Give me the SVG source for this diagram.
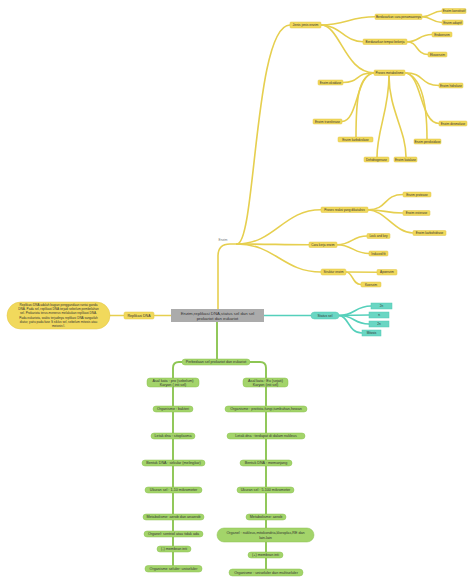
<svg xmlns="http://www.w3.org/2000/svg" width="474" height="585" viewBox="0 0 474 585">
<style>
text{font-family:"Liberation Sans",Arial,sans-serif;text-anchor:middle;fill:#333}
.y{fill:#f1d95c;stroke:#e2c646;stroke-width:0.5}
.t{fill:#6ad6c3;stroke:#52c9b4;stroke-width:0.5}
.g{fill:#a3d46a;stroke:#8cc253;stroke-width:0.5}
.yt{font-size:3.1px}
.ym{font-size:3.4px}
.gt{font-size:3.7px}
.cy{fill:none;stroke:#e6cf4f;stroke-width:1.6;stroke-linecap:round}
.ct{fill:none;stroke:#55d0bb;stroke-width:1.6;stroke-linecap:round}
.cg{fill:none;stroke:#8dc653;stroke-width:1.9;stroke-linecap:round}
</style>
<rect width="474" height="585" fill="#ffffff"/>
<g id="connectors">
<path class="cy" d="M218,309 L218,256 Q218,244 230,244 L237,244"/>
<path class="cy" d="M237,244 C256,244 254,25 290,25"/>
<path class="cy" d="M237,244 C275,244 283,209.75 321,209.75"/>
<path class="cy" d="M237,244 C270,244 280,244.75 309,244.75"/>
<path class="cy" d="M237,244 C275,244 283,272 321,272"/>
<path class="cy" d="M321,25 C345,25 350,16.75 375,16.75"/>
<path class="cy" d="M321,25 C340,25 345,41.75 363,41.75"/>
<path class="cy" d="M321,25 C340,25 345,72.75 374,72.75"/>
<path class="cy" d="M422,16.75 C432,16.75 432,11 442,11"/>
<path class="cy" d="M422,16.75 C432,16.75 432,22.5 442,22.5"/>
<path class="cy" d="M407,41.75 C420,41.75 418,34.5 432,34.5"/>
<path class="cy" d="M407,41.75 C418,41.75 416,54.5 428,54.5"/>
<path class="cy" d="M374,72.75 C355,72.75 360,82.5 343,82.5"/>
<path class="cy" d="M374,72.75 C356,74 358,121.5 342,121.5"/>
<path class="cy" d="M374,72.75 C358,76 356,100 356,137"/>
<path class="cy" d="M389,75.5 C389,110 377,130 377,157"/>
<path class="cy" d="M389,75.5 C389,110 406,130 406,157"/>
<path class="cy" d="M405,72.75 C425,72.75 420,85.5 439,85.5"/>
<path class="cy" d="M405,72.75 C420,76 427,100 427,139"/>
<path class="cy" d="M405,72.75 C422,74 420,123.5 439,123.5"/>
<path class="cy" d="M368,209.75 C388,209.75 383,194.5 403,194.5"/>
<path class="cy" d="M368,209.75 C385,209.75 385,213 403,213"/>
<path class="cy" d="M368,209.75 C385,210 395,233 413,233"/>
<path class="cy" d="M337,244.75 C352,244.75 352,236 367,236"/>
<path class="cy" d="M337,244.75 C352,244.75 354,253.5 369,253.5"/>
<path class="cy" d="M346,272 L377,272.25"/>
<path class="cy" d="M346,272 C353,272 352,284.5 361,284.5"/>
<path class="cy" d="M154,315.5 L171,315.5"/>
<path class="cy" d="M110,315.5 L124,315.5"/>
<path class="ct" d="M264,315.5 L311,315.5"/>
<path class="ct" d="M339,315.5 C355,315.5 355,306 371,306"/>
<path class="ct" d="M339,315.5 L369,315"/>
<path class="ct" d="M339,315.5 C355,315.5 353,324 369,324"/>
<path class="ct" d="M339,315.5 C349,316 348,333 362,333"/>
<path class="cg" d="M217,322 L217,359"/>
<path class="cg" d="M182,362 L179,362 Q173,362 173,368 L173,378"/>
<path class="cg" d="M250,362 L260,362 Q266,362 266,368 L266,378"/>
<path class="cg" d="M173,387 L173,406 M173,412 L173,433 M173,439 L173,460 M173,466 L173,487 M173,493 L173,514 M173,520 L173,531 M173,537 L173,546 M173,552 L173,565.5"/>
<path class="cg" d="M266,387 L266,406 M266,412 L266,433 M266,439 L266,460 M266,466 L266,487 M266,493 L266,514 M266,520 L266,528 M266,542 L266,552 M266,558 L266,569"/>
</g>
<text x="223" y="241" style="font-size:3.2px;fill:#777">Enzim</text>
<g id="center"><rect x="171" y="309" width="93" height="13" fill="#ababab"/><text x="217.5" y="315" style="font-size:4.3px">Enzim,replikasi DNA,status sel dan sel</text><text x="217.5" y="320" style="font-size:4.3px">prokariot dan eukariot</text></g>
<g id="jenis"><rect class="y" x="290" y="22" width="31" height="6" rx="1"/><text class="ym" x="305.5" y="26.2">Jenis jenis enzim</text></g>
<g id="penamaan"><rect class="y" x="375" y="14" width="47" height="5.5" rx="1"/><text class="yt" x="398.5" y="17.8">Berdasarkan cara penamaannya</text></g>
<g id="konstitutif"><rect class="y" x="442" y="8.5" width="24" height="5" rx="1"/><text class="yt" x="454" y="12.1">Enzim konstitutif</text></g>
<g id="adaptif"><rect class="y" x="442" y="20" width="21" height="5" rx="1"/><text class="yt" x="452.5" y="23.6">Enzim adaptif</text></g>
<g id="tempat"><rect class="y" x="363" y="39" width="44" height="5.5" rx="1"/><text class="yt" x="385" y="42.8">Berdasarkan tempat bekerja</text></g>
<g id="endoenzim"><rect class="y" x="432" y="32" width="20" height="5" rx="1"/><text class="yt" x="442" y="35.6">Endoenzim</text></g>
<g id="eksoenzim"><rect class="y" x="428" y="52" width="19" height="5" rx="1"/><text class="yt" x="437.5" y="55.6">Eksoenzim</text></g>
<g id="metabolisme"><rect class="y" x="374" y="70" width="31" height="5.5" rx="1"/><text class="yt" x="389.5" y="73.8">Proses metabolisme</text></g>
<g id="oksidase"><rect class="y" x="318" y="80" width="25" height="5" rx="1"/><text class="yt" x="330.5" y="83.6">Enzim oksidase</text></g>
<g id="hidrolase"><rect class="y" x="439" y="83" width="24" height="5" rx="1"/><text class="yt" x="451" y="86.6">Enzim hidrolase</text></g>
<g id="transferase"><rect class="y" x="313" y="119" width="29" height="5" rx="1"/><text class="yt" x="327.5" y="122.6">Enzim transferase</text></g>
<g id="desmolase"><rect class="y" x="439" y="121" width="28" height="5" rx="1"/><text class="yt" x="453" y="124.6">Enzim desmolase</text></g>
<g id="karboksilase"><rect class="y" x="338" y="137" width="35" height="5" rx="1"/><text class="yt" x="355.5" y="140.6">Enzim karboksilase</text></g>
<g id="peroksidase"><rect class="y" x="414" y="139" width="27" height="5" rx="1"/><text class="yt" x="427.5" y="142.6">Enzim peroksidase</text></g>
<g id="dehidrogenase"><rect class="y" x="364" y="157" width="25" height="5" rx="1"/><text class="yt" x="376.5" y="160.6">Dehidrogenase</text></g>
<g id="katalase"><rect class="y" x="394" y="157" width="23" height="5" rx="1"/><text class="yt" x="405.5" y="160.6">Enzim katalase</text></g>
<g id="reaksi"><rect class="y" x="321" y="207" width="47" height="5.5" rx="1"/><text class="yt" x="344.5" y="210.8">Proses reaksi yang dikatalisis</text></g>
<g id="protease"><rect class="y" x="403" y="192" width="28" height="5" rx="1"/><text class="yt" x="417" y="195.6">Enzim protease</text></g>
<g id="esterase"><rect class="y" x="403" y="210.5" width="27" height="5" rx="1"/><text class="yt" x="416.5" y="214.1">Enzim esterase</text></g>
<g id="karbohidrase"><rect class="y" x="413" y="230.5" width="33" height="5" rx="1"/><text class="yt" x="429.5" y="234.1">Enzim karbohidrase</text></g>
<g id="carakerja"><rect class="y" x="309" y="242" width="28" height="5.5" rx="1"/><text class="yt" x="323" y="245.8">Cara kerja enzim</text></g>
<g id="lockkey"><rect class="y" x="367" y="233.5" width="23" height="5" rx="1"/><text class="yt" x="378.5" y="237.1">Lock and key</text></g>
<g id="induced"><rect class="y" x="369" y="251" width="19" height="5" rx="1"/><text class="yt" x="378.5" y="254.6">Induced fit</text></g>
<g id="struktur"><rect class="y" x="321" y="269" width="25" height="6" rx="1.5"/><text class="yt" x="333.5" y="273.1">Struktur enzim</text></g>
<g id="apoenzim"><rect class="y" x="377" y="269.5" width="20" height="5.5" rx="1"/><text class="yt" x="387" y="273.3">Apoenzim</text></g>
<g id="koenzim"><rect class="y" x="361" y="282" width="20" height="5" rx="1"/><text class="yt" x="371" y="285.6">Koenzim</text></g>
<g id="replikasi"><rect class="y" x="124" y="312" width="30" height="7" rx="1.5"/><text x="139" y="316.8" style="font-size:3.6px">Replikasi DNA</text></g>
<g id="replikasi-note"><rect class="y" x="7" y="302" width="103" height="27" rx="13.5"/>
<text x="58.5" y="305.8" style="font-size:3.1px">Replikasi DNA adalah bagian penggandaan rantai ganda</text>
<text x="58.5" y="310.1" style="font-size:3.1px">DNA. Pada sel, replikasi DNA terjadi sebelum pembelahan</text>
<text x="58.5" y="314.4" style="font-size:3.1px">sel. Prokariota terus-menerus melakukan replikasi DNA.</text>
<text x="58.5" y="318.7" style="font-size:3.1px">Pada eukariota, waktu terjadinya replikasi DNA sangatlah</text>
<text x="58.5" y="323" style="font-size:3.1px">diatur, yaitu pada fase S siklus sel, sebelum mitosis atau</text>
<text x="58.5" y="327.3" style="font-size:3.1px">meiosis I.</text></g>
<g id="status"><rect class="t" x="311" y="312" width="28" height="7" rx="3.5"/><text x="325" y="316.7" style="font-size:3.4px">Status sel</text></g>
<g id="s2n"><rect class="t" x="371" y="303" width="21" height="6"/><text class="yt" x="381.5" y="307.1">2n</text></g>
<g id="sn"><rect class="t" x="369" y="312" width="20" height="6"/><text class="yt" x="379" y="316.1">n</text></g>
<g id="s2n-b"><rect class="t" x="369" y="321" width="20" height="6"/><text class="yt" x="379" y="325.1">2n</text></g>
<g id="mitosis"><rect class="t" x="362" y="330" width="19" height="6"/><text class="yt" x="371.5" y="334.1">Mitosis</text></g>
<g id="perbedaan"><rect class="g" x="182" y="359" width="68" height="6" rx="3"/><text class="gt" x="216" y="363.3">Perbedaan sel prokariot dan eukariot</text></g>
<g id="l1"><rect class="g" x="147" y="378" width="52" height="9" rx="3"/><text class="gt" x="173" y="382">Asal kata : pro (sebelum)</text><text class="gt" x="173" y="386">Karyon ( inti sel)</text></g>
<g id="l2"><rect class="g" x="153" y="406" width="40" height="6" rx="3"/><text class="gt" x="173" y="410.3">Organisme : bakteri</text></g>
<g id="l3"><rect class="g" x="151" y="433" width="44" height="6" rx="3"/><text class="gt" x="173" y="437.3">Letak dna : sitoplasma</text></g>
<g id="l4"><rect class="g" x="142" y="460" width="63" height="6" rx="3"/><text class="gt" x="173.5" y="464.3">Bentuk DNA : sirkular (melingkar)</text></g>
<g id="l5"><rect class="g" x="145" y="487" width="57" height="6" rx="3"/><text class="gt" x="173.5" y="491.3">Ukuran sel : 1-10 mikrometer</text></g>
<g id="l6"><rect class="g" x="143" y="514" width="61" height="6" rx="3"/><text class="gt" x="173.5" y="518.3">Metabolisme: aerob dan anaerob</text></g>
<g id="l7"><rect class="g" x="144" y="531" width="59" height="6" rx="3"/><text class="gt" x="173.5" y="535.3">Organel: sentriol atau tidak ada</text></g>
<g id="l8"><rect class="g" x="157" y="546" width="34" height="6" rx="3"/><text class="gt" x="174" y="550.3">(-) membran inti</text></g>
<g id="l9"><rect class="g" x="145" y="565.5" width="57" height="6.5" rx="3"/><text class="gt" x="173.5" y="570">Organisme seluler: uniseluler</text></g>
<g id="r1"><rect class="g" x="243" y="378" width="45" height="9" rx="3"/><text class="gt" x="265.5" y="382">Asal kata : Eu (sejati)</text><text class="gt" x="265.5" y="386">Karyon (inti sel)</text></g>
<g id="r2"><rect class="g" x="225" y="406" width="82" height="6" rx="3"/><text class="gt" x="266" y="410.3">Organisme : protista,fungi,tumbuhan,hewan</text></g>
<g id="r3"><rect class="g" x="227" y="433" width="78" height="6" rx="3"/><text class="gt" x="266" y="437.3">Letak dna : terdapat di dalam nukleus</text></g>
<g id="r4"><rect class="g" x="240" y="460" width="52" height="6" rx="3"/><text class="gt" x="266" y="464.3">Bentuk DNA : memanjang</text></g>
<g id="r5"><rect class="g" x="237" y="487" width="57" height="6" rx="3"/><text class="gt" x="265.5" y="491.3">Ukuran sel : 5-100 mikrometer</text></g>
<g id="r6"><rect class="g" x="246" y="514" width="40" height="6" rx="3"/><text class="gt" x="266" y="518.3">Metabolisme: aerob</text></g>
<g id="r7"><rect class="g" x="217" y="528" width="97" height="14" rx="7"/><text class="gt" x="265.5" y="534">Organel : nukleus,mitokondria,kloroplas,RE dan</text><text class="gt" x="265.5" y="538.6">lain-lain</text></g>
<g id="r8"><rect class="g" x="248" y="552" width="35" height="6" rx="3"/><text class="gt" x="265.5" y="556.3">(+) membran inti</text></g>
<g id="r9"><rect class="g" x="229" y="569" width="74" height="7" rx="3.5"/><text class="gt" x="266" y="573.8">Organisme : uniseluler dan multiseluler</text></g>
</svg>
